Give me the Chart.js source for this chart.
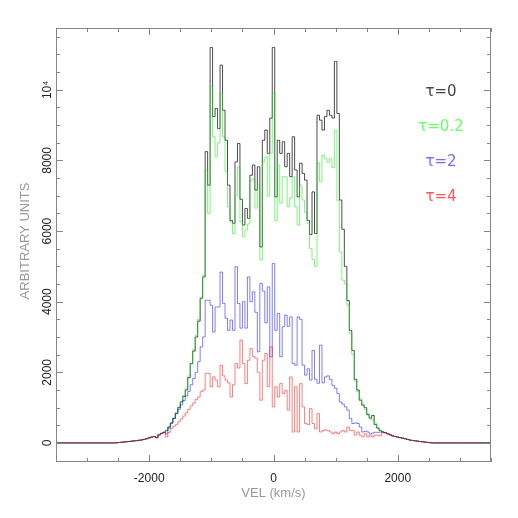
<!DOCTYPE html>
<html lang="en">
<head>
    <meta charset="UTF-8">
    <title>Line profiles vs optical depth</title>
    <style>
        body { margin: 0; background: #ffffff; }
        #wrap { width: 518px; height: 518px; }
    </style>
</head>
<body>
    <div id="wrap">
        <canvas id="profile" width="518" height="518"></canvas>
    </div>

    <script src="https://cdn.jsdelivr.net/npm/chart.js@4.4.0/dist/chart.umd.min.js"></script>

    <script>
        // velocity bins (km/s)
        const binWidth = 40;
        const firstBin = -2600;
        const xRange = [-3500, 3500];
        const yRange = [-540, 11750];

        // wings, same for every tau
        const wingLeft = [0, 0, 5, 12, 20, 28, 35, 42, 50, 58, 66,
                          75, 85, 100, 120, 145, 165, 180, 150, 230, 270, 300];
        const wingRight = [290, 260, 230, 200, 180, 165, 150, 135, 120, 100, 80,
                           70, 60, 50, 40, 32, 25, 15, 8, 0, 0];

        // core, -1720 .. 1760 km/s
        const tau0 = [
            350, 450, 560, 690, 830, 1000, 1160, 1320, 1500, 1850, 2250,
            2600, 3000, 3450, 4100, 4700, 8250, 7300, 11200, 9240, 9470, 8900,
            10700, 9420, 8570, 7300, 6300, 6220, 7960, 8480, 6900, 6170, 6640,
            6360, 7580, 7870, 7160, 7820, 5550, 8570, 8860, 8200, 9200, 11200,
            6970, 8570, 8200, 8530, 7820, 8200, 7540, 8670, 7730, 6970, 7920,
            7630, 7440, 6300, 5900, 7110, 5930, 9280, 9140, 8860, 9240, 9420,
            9280, 9200, 10800, 9330, 6880, 6050, 5000, 4030, 3190, 2620, 1800,
            1500, 1210, 1070, 1000, 800, 700, 780, 520, 420, 350, 310
        ];
        const tau02 = [
            340, 460, 570, 700, 820, 1010, 1180, 1330, 1540, 1900, 2230,
            2650, 3050, 3500, 4100, 4750, 7720, 6500, 10100, 8670, 8100, 8500,
            9900, 8670, 7680, 6690, 6260, 5930, 7000, 7820, 6260, 5840, 6030,
            6200, 7440, 7480, 6650, 7300, 5180, 7960, 8100, 6990, 8200, 9900,
            6300, 7870, 6790, 7540, 7540, 6690, 6930, 7540, 6690, 6170, 7300,
            6880, 6530, 6220, 5500, 5200, 5000, 7930, 7400, 8150, 8050, 7950,
            8050, 7800, 8850, 6870, 5410, 4610, 4500, 3900, 3100, 2500, 1750,
            1450, 1250, 1100, 950, 830, 720, 650, 560, 430, 360, 310
        ];
        const tau2 = [
            250, 420, 560, 700, 850, 950, 1080, 1200, 1330, 1460, 1650,
            1820, 2000, 2300, 2720, 3000, 4040, 4040, 3900, 3140, 3850, 3850,
            4840, 3950, 3530, 3190, 3480, 3190, 4990, 3950, 3250, 4000, 3250,
            4700, 4000, 4280, 3700, 2580, 4520, 4300, 3400, 4420, 2440, 5080,
            3190, 3670, 2440, 3290, 3620, 3300, 3570, 2250, 2200, 3570, 3500,
            2200, 1920, 2100, 1780, 2620, 1800, 1690, 2770, 1700, 1870, 1900,
            1800, 1630, 1550, 1400, 1160, 1100, 1020, 930, 690, 550, 570,
            550, 450, 310, 330, 310, 260, 280, 300, 300, 310, 310
        ];
        const tau4 = [
            170, 300, 410, 470, 520, 600, 680, 760, 850, 950, 1050,
            1130, 1230, 1300, 1450, 1500, 1970, 1970, 1590, 1870, 1780, 1590,
            2200, 1900, 1780, 1700, 1300, 1650, 2250, 2120, 2910, 2250, 1680,
            2340, 2670, 2450, 2400, 2000, 1210, 2340, 2530, 1600, 2720, 1020,
            1590, 1300, 1680, 1400, 1490, 930, 1870, 310, 1590, 310, 1680,
            1020, 550, 520, 970, 550, 400, 830, 310, 350, 370, 350,
            310, 260, 310, 260, 310, 350, 310, 450, 350, 350, 220,
            310, 220, 170, 260, 170, 220, 170, 220, 220, 200, 300
        ];

        const labels = ['τ=0', 'τ=0.2', 'τ=2', 'τ=4'];
        const lineColors = ['rgba(0,0,0,0.7)', 'rgba(0,235,0,0.5)', 'rgba(0,0,255,0.5)', 'rgba(255,0,0,0.5)'];
        const textColors = ['#444444', '#66ff66', '#6f6fff', '#ff5555'];

        const xTickLabels = [-2000, 0, 2000];
        const yTickLabels = ['0', '2000', '4000', '6000', '8000', '10⁴'];

        const buildSeries = (core) => {
            const vals = wingLeft.concat(core, wingRight);
            const pts = [{x: xRange[0], y: 0}];
            vals.forEach((v, i) => pts.push({x: firstBin + i * binWidth, y: v}));
            pts.push({x: xRange[1], y: 0});
            return pts;
        };

        const allSeries = [tau0, tau02, tau2, tau4];

        const framePlugin = {
            id: 'frame',
            afterDraw(chart) {
                const {ctx, chartArea: a, scales: {x, y}} = chart;
                ctx.save();

                // box
                ctx.strokeStyle = '#858585';
                ctx.lineWidth = 1;
                ctx.strokeRect(a.left + 0.5, a.top + 0.5, a.right - a.left - 1, a.bottom - a.top - 1);

                // inward ticks on all four sides
                ctx.beginPath();
                for (let v = -3500; v <= 3500; v += 500) {
                    const px = Math.round(x.getPixelForValue(v)) + 0.5;
                    const len = v % 2000 === 0 ? 7 : 4;
                    ctx.moveTo(px, a.bottom); ctx.lineTo(px, a.bottom - len);
                    ctx.moveTo(px, a.top); ctx.lineTo(px, a.top + len);
                }
                for (let v = -500; v <= 11500; v += 500) {
                    const py = Math.round(y.getPixelForValue(v)) + 0.5;
                    const len = v % 2000 === 0 ? 7 : 4;
                    ctx.moveTo(a.left, py); ctx.lineTo(a.left + len, py);
                    ctx.moveTo(a.right, py); ctx.lineTo(a.right - len, py);
                }
                ctx.stroke();

                // x tick labels
                ctx.fillStyle = '#222';
                ctx.font = '12px "Liberation Sans", Arial, sans-serif';
                ctx.textAlign = 'center';
                ctx.textBaseline = 'alphabetic';
                xTickLabels.forEach(v => {
                    ctx.fillText(String(v), x.getPixelForValue(v), 482);
                });

                // y tick labels, rotated
                yTickLabels.forEach((lab, i) => {
                    ctx.save();
                    ctx.translate(51, y.getPixelForValue(i * 2000));
                    ctx.rotate(-Math.PI / 2);
                    ctx.fillText(lab, 0, 0);
                    ctx.restore();
                });

                // axis titles
                ctx.fillStyle = '#999';
                ctx.font = '13px "Liberation Sans", Arial, sans-serif';
                ctx.fillText('VEL (km/s)', (a.left + a.right) / 2, 497);
                ctx.save();
                ctx.translate(29, 241);
                ctx.rotate(-Math.PI / 2);
                ctx.fillText('ARBITRARY UNITS', 0, 0);
                ctx.restore();

                // tau labels
                ctx.font = '15px "DejaVu Sans", sans-serif';
                labels.forEach((lab, i) => {
                    ctx.fillStyle = textColors[i];
                    ctx.fillText(lab, 441, 95.5 + i * 35);
                });

                ctx.restore();
            }
        };

        const chart = new Chart(document.getElementById('profile'), {
            type: 'line',
            data: {
                datasets: allSeries.map((core, i) => ({
                    label: labels[i],
                    data: buildSeries(core),
                    borderColor: lineColors[i],
                    borderWidth: 1,
                    stepped: 'middle',
                    pointRadius: 0,
                    fill: false,
                    order: 3 - i
                }))
            },
            options: {
                responsive: false,
                animation: false,
                layout: {
                    padding: {left: 56, top: 28, right: 27, bottom: 56}
                },
                plugins: {
                    legend: {display: false},
                    tooltip: {enabled: false}
                },
                scales: {
                    x: {type: 'linear', min: xRange[0], max: xRange[1], display: false},
                    y: {type: 'linear', min: yRange[0], max: yRange[1], display: false}
                }
            },
            plugins: [framePlugin]
        });
    </script>
</body>
</html>
